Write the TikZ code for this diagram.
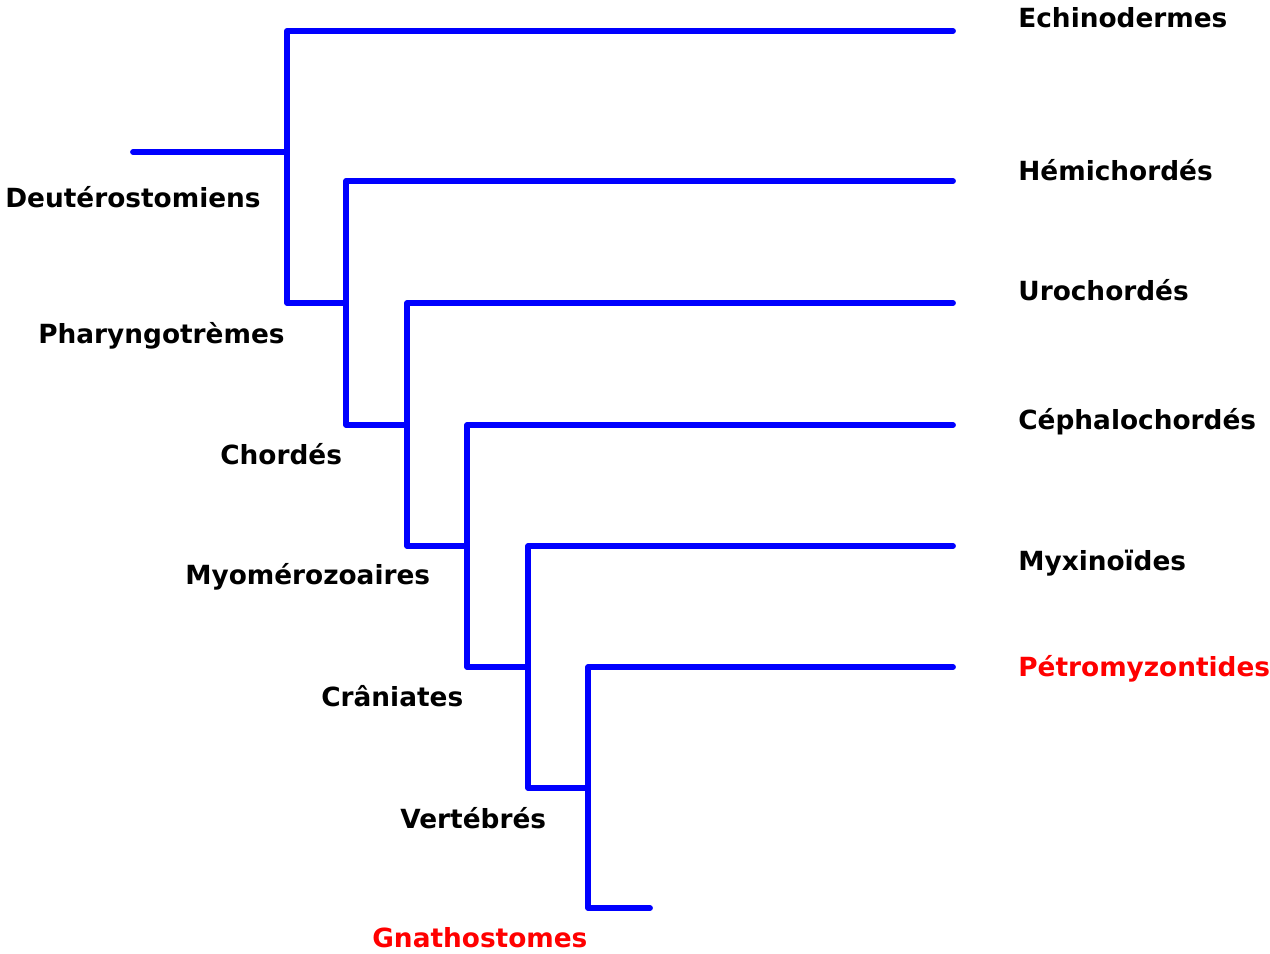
\documentclass[tikz,border=0pt]{standalone}
\usepackage{fontspec}
\setmainfont{DejaVu Sans}
\usepackage{xcolor}
\definecolor{cblue}{HTML}{0000FF}
\definecolor{cred}{HTML}{FF0000}
\tikzset{
  branche/.style={draw=cblue, line width=3.3pt, line cap=round, line join=round},
  taxon/.style={font=\bfseries\fontsize{15}{18}\selectfont, anchor=base west, inner sep=0pt},
}
\begin{document}
\begin{tikzpicture}[x=0.02cm, y=-0.02cm]
\useasboundingbox (0,0) rectangle (1270,953);
% ---------------- noeuds de l'arbre ----------------
\coordinate (racine) at (133,152);
\coordinate (deut)   at (287,152);
\coordinate (phar)   at (346,303);
\coordinate (chor)   at (407,425);
\coordinate (myo)    at (467,546);
\coordinate (cran)   at (528,667);
\coordinate (vert)   at (588,788);
\coordinate (gnat)   at (650,908);
% ---------------- extremites des branches ----------------
\coordinate (echi)  at (953,31);
\coordinate (hemi)  at (953,181);
\coordinate (uro)   at (953,303);
\coordinate (cepha) at (953,425);
\coordinate (myxi)  at (953,546);
\coordinate (petro) at (953,667);
% ---------------- branches ----------------
\draw[branche] (racine) -- (deut);
\foreach \tip/\a/\b in {echi/deut/phar, hemi/phar/chor, uro/chor/myo,
                        cepha/myo/cran, myxi/cran/vert, petro/vert/gnat}{
  \draw[branche] (\tip) -| (\a) |- (\b);}
% ---------------- taxons terminaux ----------------
\node[taxon] (lechi)  at (1018,28)  {Echinodermes};
\node[taxon] (lhemi)  at (1018,180) {Hémichordés};
\node[taxon] (luro)   at (1018,300) {Urochordés};
\node[taxon] (lcepha) at (1018,429) {Céphalochordés};
\node[taxon] (lmyxi)  at (1018,570) {Myxinoïdes};
\node[taxon, cred] (lpetro) at (1018,676) {Pétromyzontides};
% ---------------- groupes ----------------
\node[taxon] (ldeut) at (5,207)   {Deutérostomiens};
\node[taxon] (lphar) at (38,343)  {Pharyngotrèmes};
\node[taxon] (lchor) at (220,464) {Chordés};
\node[taxon] (lmyo)  at (185,584) {Myomérozoaires};
\node[taxon] (lcran) at (321,706) {Crâniates};
\node[taxon] (lvert) at (400,828) {Vertébrés};
\node[taxon, cred] (lgnat) at (372,947) {Gnathostomes};
\end{tikzpicture}
\end{document}
